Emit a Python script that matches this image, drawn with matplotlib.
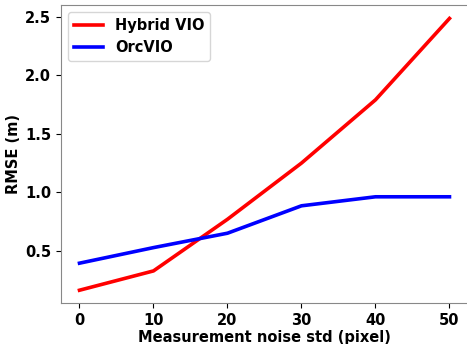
import matplotlib
matplotlib.use("Agg")
import matplotlib.pyplot as plt

noise = [0, 10, 20, 30, 40, 50]
hybrid_vio = [0.164, 0.329, 0.77, 1.25, 1.79, 2.485]
orcvio = [0.395, 0.528, 0.651, 0.885, 0.962, 0.962]

plt.rcParams['font.weight'] = 'bold'
plt.rcParams['axes.labelweight'] = 'bold'

fig = plt.figure(figsize=(4.67, 3.44), dpi=100)
ax = fig.add_axes([0.1306, 0.1192, 0.8715, 0.8663])

ax.plot(noise, hybrid_vio, color='red', linewidth=2.6, label='Hybrid VIO')
ax.plot(noise, orcvio, color='blue', linewidth=2.6, label='OrcVIO')

ax.set_xlim(-2.5, 52.5)
ax.set_ylim(0.055, 2.6)
ax.set_xticks(noise)
ax.set_yticks([0.5, 1.0, 1.5, 2.0, 2.5])
ax.tick_params(labelsize=10.5)
ax.set_xlabel('Measurement noise std (pixel)', fontsize=10.5, labelpad=2)
ax.set_ylabel('RMSE (m)', fontsize=10.5, labelpad=3)
for s in ax.spines.values():
    s.set_color('#888888')
ax.legend(loc='upper left', fontsize=10.5)

fig.savefig('out.png', dpi=100)
